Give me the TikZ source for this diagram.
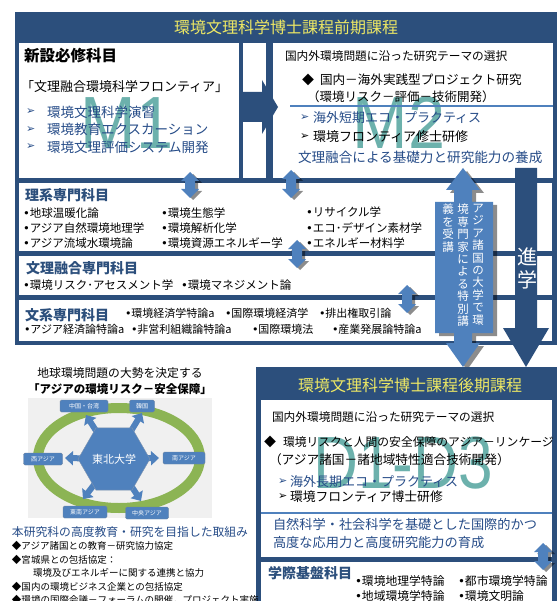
\documentclass[tikz,border=0pt]{standalone}
\usepackage{fontspec}
\setmainfont{Noto Sans CJK JP}
\newfontfamily\dv{DejaVu Sans}
\newfontfamily\lib{Liberation Sans}
\usetikzlibrary{arrows.meta,shapes.geometric}
\definecolor{navy}{RGB}{44,79,124}
\definecolor{lblue}{RGB}{79,129,189}
\definecolor{ttl}{RGB}{238,232,100}
\definecolor{tealc}{RGB}{72,158,152}
\definecolor{tblue}{RGB}{38,76,136}
\definecolor{greenc}{RGB}{140,180,84}
\newcommand\fs[1]{\fontsize{#1}{#1}\selectfont}
\newcommand\bul{{\dv •}}
\newcommand\arr{{\dv\fontsize{11}{11}\selectfont ➢}}
\newcommand\dblarr[3]{%
 \fill[black,opacity=.45,xshift=3pt,yshift=-2pt] (#1,#2) -- (#1+9,#2+9) -- (#1+5,#2+9) -- (#1+5,#3-9) -- (#1+9,#3-9) -- (#1,#3) -- (#1-9,#3-9) -- (#1-5,#3-9) -- (#1-5,#2+9) -- (#1-9,#2+9) -- cycle;
 \fill[lblue] (#1,#2) -- (#1+9,#2+9) -- (#1+5,#2+9) -- (#1+5,#3-9) -- (#1+9,#3-9) -- (#1,#3) -- (#1-9,#3-9) -- (#1-5,#3-9) -- (#1-5,#2+9) -- (#1-9,#2+9) -- cycle;}
\tikzset{
 lbl/.style={anchor=west, inner sep=0pt, outer sep=0pt},
 ctr/.style={inner sep=0pt, outer sep=0pt},
 sat/.style={fill=lblue, draw=navy!70, rounded corners=1.5pt, minimum height=12pt, inner sep=1pt, text=white, font=\fs{6}},
 hexarrow/.style={line width=6pt, draw=lblue, -{Triangle[width=14pt,length=8pt]}},
 bigm/.style={inner sep=0pt, text=tealc, opacity=.8, font=\lib\fs{74}},
}
\begin{document}
\begin{tikzpicture}[x=1pt,y=-1pt]
\useasboundingbox (0,0) rectangle (557,601);
\fill[white] (0,0) rectangle (557,601);
% ===== upper frame =====
\fill[navy] (15,12) rectangle (557,345);
\node[ctr, text=ttl, font=\fs{16}] (title1) at (286,27) {環境文理科学博士課程前期課程};
\fill[white] (19,43) rectangle (239,178);
\fill[white] (243,43) rectangle (266,178);
\fill[white] (273,43) rectangle (553,178);
\fill[navy] (243,92) -- (262,92) -- (262,80) -- (278,107) -- (262,134) -- (262,122) -- (243,122) -- cycle;
\fill[white] (19,183) rectangle (552,251);
\fill[white] (19,256) rectangle (552,295);
\fill[white] (19,300) rectangle (552,341);
% M1
\node[bigm, xscale=.9] (m1) at (127,123) {M1};
\node[lbl, font=\bfseries\fs{15.5}] (m1h) at (24,56) {新設必修科目};
\node[lbl, font=\fs{13}] (m1f) at (21,87) {「文理融合環境科学フロンティア」};
\node[lbl, text=tblue] (m1a0) at (26,112) {\arr};
\node[lbl, text=tblue, font=\fs{13.5}] (m1a) at (47,112) {環境文理科学演習};
\node[lbl, text=tblue] (m1b0) at (26,129.5) {\arr};
\node[lbl, text=tblue, font=\fs{13.5}] (m1b) at (47,129.5) {環境教育エクスカーション};
\node[lbl, text=tblue] (m1c0) at (26,147) {\arr};
\node[lbl, text=tblue, font=\fs{13.5}] (m1c) at (47,147) {環境文理評価システム開発};
% M2
\node[bigm, xscale=.9] (m2) at (399,123) {M2};
\node[lbl, font=\fs{11.7}] (m2t) at (285,56) {国内外環境問題に沿った研究テーマの選択};
\node[lbl, font=\fs{12}] (m2d) at (302,80) {◆};
\node[lbl, font=\fs{12.6}] (m2p) at (320,80) {国内－海外実践型プロジェクト研究};
\node[lbl, font=\fs{12.5}] (m2q) at (307,97) {（環境リスク－評価－技術開発）};
\draw[lblue, line width=1.5pt] (290,106) -- (553,106);
\node[lbl, text=tblue] (m2a0) at (300,118) {\arr};
\node[lbl, text=tblue, font=\fs{13}] (m2a) at (313,118) {海外短期エコ・プラクティス};
\node[lbl] (m2b0) at (300,137) {\arr};
\node[lbl, font=\fs{13}] (m2b) at (313,137) {環境フロンティア修士研修};
\node[lbl, text=tblue, font=\fs{13.6}] (m2c) at (298,157) {文理融合による基礎力と研究能力の養成};
% rows
\node[lbl, text=navy, font=\bfseries\fs{14}] (r1h) at (25,195) {理系専門科目};
\begin{scope}[every node/.style={lbl, font=\fs{11.5}}]
\node (r1a) at (23,213) {\bul 地球温暖化論};
\node (r1b) at (23,228) {\bul アジア自然環境地理学};
\node (r1c) at (23,243) {\bul アジア流域水環境論};
\node (r1d) at (161,213) {\bul 環境生態学};
\node (r1e) at (161,228) {\bul 環境解析化学};
\node (r1f) at (161,243) {\bul 環境資源エネルギー学};
\node (r1g) at (306,212) {\bul リサイクル学};
\node (r1h2) at (306,228) {\bul エコ･デザイン素材学};
\node (r1i) at (306,243) {\bul エネルギー材料学};
\end{scope}
\node[lbl, text=navy, font=\bfseries\fs{14}] (r2h) at (26,268) {文理融合専門科目};
\begin{scope}[every node/.style={lbl, font=\fs{11.5}}]
\node (r2a) at (23,285) {\bul 環境リスク･アセスメント学};
\node (r2b) at (181,285) {\bul 環境マネジメント論};
\end{scope}
\node[lbl, text=navy, font=\bfseries\fs{14}] (r3h) at (25,315) {文系専門科目};
\begin{scope}[every node/.style={lbl, font=\fs{11}}]
\node (r3a) at (125,313) {\bul 環境経済学特論a};
\node (r3b) at (225,313) {\bul 国際環境経済学};
\node (r3c) at (319,313) {\bul 排出権取引論};
\node (r3d) at (24,329) {\bul アジア経済論特論a};
\node (r3e) at (131,329) {\bul 非営利組織論特論a};
\node (r3f) at (252,329) {\bul 国際環境法};
\node (r3g) at (332,329) {\bul 産業発展論特論a};
\end{scope}
% small double arrows
\dblarr{190}{172}{198}
\dblarr{291}{170}{198}
\dblarr{297}{240}{268}
\dblarr{407}{285}{313}
% big special lecture arrow
\fill[black,opacity=.45,xshift=4pt,yshift=-3pt] (463,168) -- (480,190) -- (472,190) -- (472,202) -- (493,202) -- (493,333) -- (472,333) -- (472,343) -- (480,343) -- (463,367) -- (446,343) -- (454,343) -- (454,333) -- (435,333) -- (435,202) -- (454,202) -- (454,190) -- (446,190) -- cycle;
\fill[lblue] (463,168) -- (480,190) -- (472,190) -- (472,202) -- (493,202) -- (493,333) -- (472,333) -- (472,343) -- (480,343) -- (463,367) -- (446,343) -- (454,343) -- (454,333) -- (435,333) -- (435,202) -- (454,202) -- (454,190) -- (446,190) -- cycle;
\begin{scope}[every node/.style={anchor=north, inner sep=0pt, align=center, text=white, font=\fontsize{11.5}{12.4}\selectfont}]
\node (sp1) at (478,204) {ア\\ジ\\ア\\諸\\国\\の\\大\\学\\で\\環};
\node (sp2) at (463,204) {境\\専\\門\\家\\に\\よ\\る\\特\\別\\講};
\node (sp3) at (448,204) {義\\を\\受\\講};
\end{scope}
% shingaku arrow
\fill[navy] (515,168) -- (537,168) -- (537,328) -- (549,328) -- (526,367) -- (503,328) -- (515,328) -- cycle;
\node[anchor=north, inner sep=0pt, align=center, text=white, font=\fontsize{20}{23}\selectfont] (shin) at (527,248) {進\\学};
% ===== lower right frame =====
\fill[navy] (256,367) rectangle (557,601);
\node[ctr, text=ttl, font=\fs{16}] (title2) at (410,385) {環境文理科学博士課程後期課程};
\fill[white] (261,400) rectangle (552,557);
\draw[lblue, line width=1.5pt] (261,513) -- (552,513);
\fill[white] (261,562) rectangle (552,601);
\node[bigm, xscale=.84] (d13) at (403,463) {D1-D3};
\node[lbl, font=\fs{11.7}] (dt) at (272,417) {国内外環境問題に沿った研究テーマの選択};
\node[lbl, font=\fs{12}] (dd) at (264,442) {◆};
\node[lbl, font=\fs{11.8}] (dp) at (283,442) {環境リスクと人間の安全保障のアジア－リンケージ};
\node[lbl, font=\fs{12.7}] (dq) at (269,460) {（アジア諸国－諸地域特性適合技術開発）};
\node[lbl, text=tblue] (da0) at (278,482) {\arr};
\node[lbl, text=tblue, font=\fs{13}] (da) at (290,482) {海外長期エコ・プラクティス};
\node[lbl] (db0) at (278,497) {\arr};
\node[lbl, font=\fs{12.8}] (db) at (290,497) {環境フロンティア博士研修};
\node[lbl, text=tblue, font=\fs{13.2}] (dn1) at (273,524) {自然科学・社会科学を基礎とした国際的かつ};
\node[lbl, text=tblue, font=\fs{13.2}] (dn2) at (273,543) {高度な応用力と高度研究能力の育成};
\node[lbl, text=navy, font=\bfseries\fs{14}] (gh) at (268,573) {学際基盤科目};
\begin{scope}[every node/.style={lbl, font=\fs{11.8}}]
\node (ga) at (355,581) {\bul 環境地理学特論};
\node (gb) at (458,581) {\bul 都市環境学特論};
\node (gc) at (355,596) {\bul 地域環境学特論};
\node (gd) at (458,596) {\bul 環境文明論};
\end{scope}
\dblarr{543}{543}{570}
% ===== lower left =====
\node[ctr, font=\fs{11.8}] (ll1) at (120,373) {地球環境問題の大勢を決定する};
\node[ctr, font=\bfseries\fs{11.5}] (ll2) at (120,389) {「アジアの環境リスク－安全保障」};
\fill[black!6] (28,398) rectangle (212,518);
\draw[greenc, line width=10pt] (119,458) ellipse [x radius=81pt, y radius=50pt];
\coordinate (hubc) at (114,459);
\coordinate (t1) at (86,415);
\coordinate (t2) at (142,413);
\coordinate (t3) at (65,458);
\coordinate (t4) at (159,458);
\coordinate (t5) at (83,499);
\coordinate (t6) at (141,501);
\foreach \t in {t1,t2,t3,t4,t5,t6} \draw[hexarrow] (hubc) -- (\t);
\node[regular polygon, regular polygon sides=6, minimum size=52pt, fill=lblue, draw=navy!60, inner sep=0pt, text=white, font=\fs{11}] (hub) at (hubc) {東北大学};
\node[sat, minimum width=48pt] (cn) at (84,406) {中国・台湾};
\node[sat, minimum width=25pt] (kr) at (142,406) {韓国};
\node[sat, minimum width=39pt] (wa) at (43,459) {西アジア};
\node[sat, minimum width=42pt] (sa) at (184,458) {南アジア};
\node[sat, minimum width=44pt] (sea) at (85,512) {東南アジア};
\node[sat, minimum width=43pt] (ca) at (147,513) {中央アジア};
\node[lbl, text=tblue, font=\fs{11.8}] (lh) at (12,532) {本研究科の高度教育・研究を目指した取組み};
\begin{scope}[every node/.style={lbl, font=\fs{9.5}}]
\node (l1) at (12,546) {◆アジア諸国との教育－研究協力協定};
\node (l2) at (12,560) {◆宮城県との包括協定：};
\node (l3) at (33,573) {環境及びエネルギーに関する連携と協力};
\node (l4) at (12,587) {◆国内の環境ビジネス企業との包括協定};
\node (l5) at (12,600) {◆環境の国際会議－フォーラムの開催，プロジェクト実施};
\end{scope}
\end{tikzpicture}
\end{document}
